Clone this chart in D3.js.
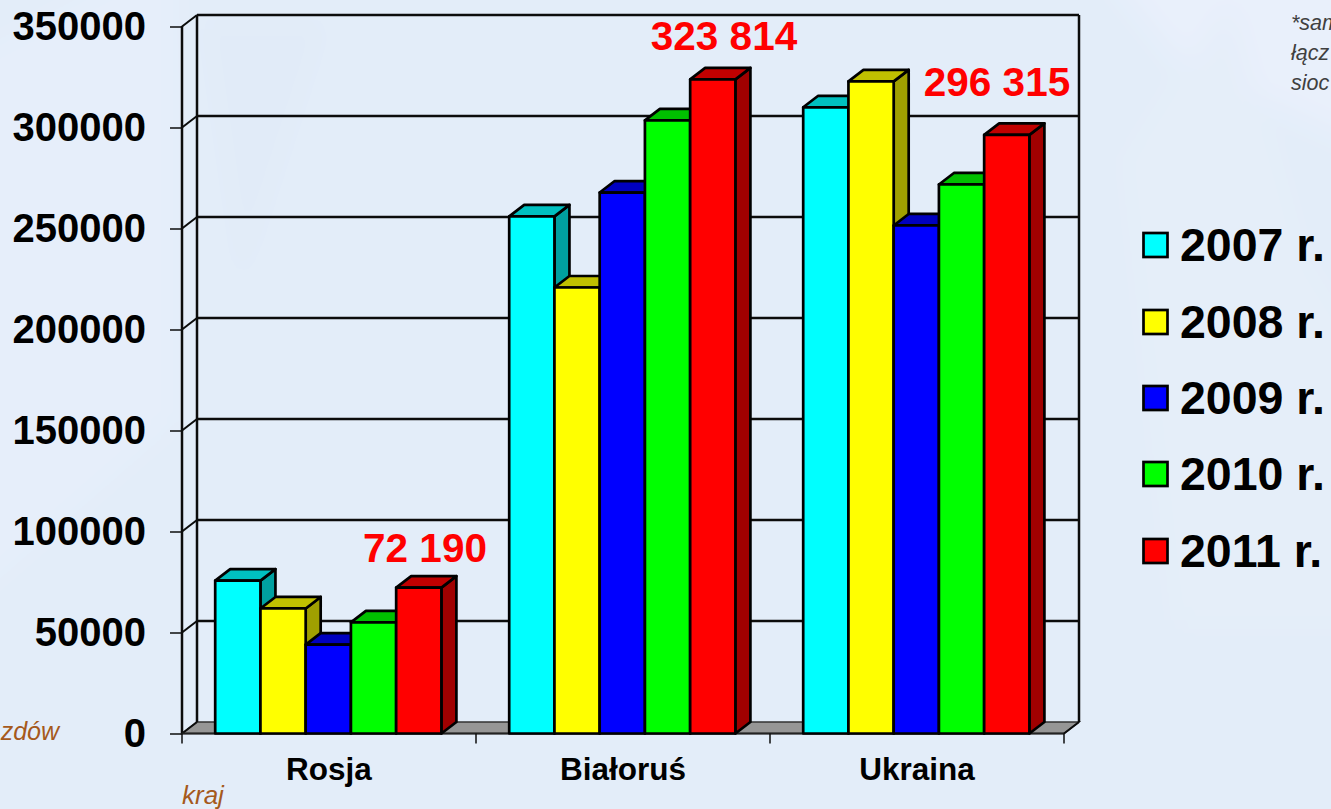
<!DOCTYPE html>
<html><head><meta charset="utf-8">
<script src="https://cdn.jsdelivr.net/npm/d3@7"></script>
<style>
html,body{margin:0;padding:0;background:#e3edf9;overflow:hidden}
svg{display:block;font-family:"Liberation Sans",Arial,sans-serif}
</style></head><body>
<svg id="c" width="1331" height="809"></svg>
<script>
const categories = ["Rosja", "Białoruś", "Ukraina"];
const years = ["2007 r.", "2008 r.", "2009 r.", "2010 r.", "2011 r."];
const v2007 = [75700, 256000, 310000];
const v2008 = [61900, 220800, 322800];
const v2009 = [44000, 267800, 251500];
const v2010 = [55000, 303500, 271800];
const v2011 = [72190, 323814, 296315];
const series = [v2007, v2008, v2009, v2010, v2011];
const frontColors = ["#00ffff", "#ffff00", "#0000ff", "#00ff00", "#ff0000"];
const topColors = ["#00c0c0", "#c0c000", "#0000c0", "#00c000", "#c00000"];
const sideColors = ["#00a0a0", "#a0a000", "#0000a0", "#00a000", "#a00000"];
const yTicks = [0, 50000, 100000, 150000, 200000, 250000, 300000, 350000];
const valueLabels = [
  {text: "72 190", cat: 0},
  {text: "323 814", cat: 1},
  {text: "296 315", cat: 2}
];
const labelOffsets = [[425, 562], [724, 50], [997, 96]];
const legendBaselines = [261, 338, 414, 490, 567];
const swatchTops = [233, 310, 386, 462, 539];
const noteLines = ["*sam", "łącz", "sioc"];

const svg = d3.select("#c");
const dx = 15, dy = -11.5;
const y = d3.scaleLinear().domain([0, 350000]).range([733.5, 26.5]);
const x0 = d3.scaleBand().domain(categories).range([182, 1064]);
const x1 = d3.scaleBand().domain(d3.range(5)).range([33.2, 259.4]);

// soft background shapes
const defs = svg.append("defs");
defs.append("filter").attr("id","blur").attr("filterUnits","userSpaceOnUse")
  .attr("x",-100).attr("y",-100).attr("width",1531).attr("height",1009)
  .append("feGaussianBlur").attr("stdDeviation",14);
const bg = svg.append("g").attr("filter","url(#blur)");
bg.append("rect").attr("x",-100).attr("y",-100).attr("width",1531).attr("height",1009).attr("fill","#e3edf9");
[["M1100,-40L1400,-40L1400,160L1180,60Z","#e9f0fb"],
 ["M1130,160L1230,0L1300,260L1400,420L1400,620L1180,620Z","#e5eef9"],
 ["M-60,80L170,-40L170,420L-60,620Z","#e6eefa"],
 ["M200,20L330,20L240,300Z","#e1ebf8"]
].forEach(d => bg.append("path").attr("d",d[0]).attr("fill",d[1]));

const ink = "#0c0c0c";
// floor
svg.append("path")
  .attr("d", d3.line()([[182,y(0)],[182+dx,y(0)+dy],[1064+dx,y(0)+dy],[1064,y(0)]])+"Z")
  .attr("fill","#969696").attr("stroke","#333").attr("stroke-width",1.5);

// walls & grid
const grid = svg.append("g").attr("fill","none").attr("stroke",ink).attr("stroke-width",2.5);
yTicks.forEach(t => {
  const yy = y(t);
  if (t>0) grid.append("line").attr("x1",182+dx).attr("x2",1064+dx).attr("y1",yy+dy).attr("y2",yy+dy);
  grid.append("line").attr("x1",182).attr("x2",182+dx).attr("y1",yy).attr("y2",yy+dy).attr("stroke-width",2);
});
grid.append("line").attr("x1",182+dx).attr("x2",182+dx).attr("y1",y(350000)+dy).attr("y2",y(0)+dy);
grid.append("line").attr("x1",1064+dx).attr("x2",1064+dx).attr("y1",y(350000)+dy).attr("y2",y(0)+dy);
grid.append("line").attr("x1",1064).attr("x2",1064+dx).attr("y1",y(0)).attr("y2",y(0)+dy).attr("stroke-width",2);

// y axis
const yAxis = svg.append("g").attr("transform","translate(182,0)")
  .call(d3.axisLeft(y).tickValues(yTicks).tickFormat(d3.format("d")).tickSize(12).tickPadding(24));
yAxis.selectAll("text").attr("font-size",40).attr("font-weight","bold").attr("fill","#000")
  .attr("font-family","'Liberation Sans',Arial,sans-serif");
yAxis.selectAll("line").attr("stroke",ink).attr("stroke-width",1.5);
yAxis.select(".domain").attr("d","M0,26V733").attr("stroke",ink).attr("stroke-width",2.5);

// x axis
const xAxis = svg.append("g").attr("transform","translate(0,733.5)")
  .call(d3.axisBottom(x0).tickSize(0).tickPadding(24));
xAxis.selectAll("text").attr("font-size",31.5).attr("font-weight","bold").attr("fill","#000")
  .attr("font-family","'Liberation Sans',Arial,sans-serif");
xAxis.select(".domain").attr("d","M182,0H1064").attr("stroke","#222").attr("stroke-width",2);
const tickPos = categories.map(c => x0(c)).concat([1064]);
xAxis.selectAll("line.sep").data(tickPos).join("line").attr("class","sep")
  .attr("x1",d=>d).attr("x2",d=>d).attr("y1",0).attr("y2",10)
  .attr("stroke",ink).attr("stroke-width",1.5);

// bars
const bars = svg.append("g").attr("stroke","#000").attr("stroke-width",2.7).attr("stroke-linejoin","round");
categories.forEach((cat,ci) => {
  series.forEach((vals,si) => {
    const xl = x0(cat)+x1(si), w = x1.bandwidth(), yt = y(vals[ci]), yb = y(0);
    const g = bars.append("g");
    g.append("path").attr("fill",sideColors[si])
      .attr("d",d3.line()([[xl+w,yb],[xl+w+dx,yb+dy],[xl+w+dx,yt+dy],[xl+w,yt]])+"Z");
    g.append("path").attr("fill",topColors[si])
      .attr("d",d3.line()([[xl,yt],[xl+dx,yt+dy],[xl+w+dx,yt+dy],[xl+w,yt]])+"Z");
    g.append("rect").attr("fill",frontColors[si]).attr("x",xl).attr("y",yt).attr("width",w).attr("height",yb-yt);
  });
});

// value labels
svg.append("g").selectAll("text").data(valueLabels).join("text")
  .attr("x",(d,i)=>labelOffsets[i][0]).attr("y",(d,i)=>labelOffsets[i][1])
  .attr("text-anchor","middle").attr("font-size",40.5).attr("font-weight","bold").attr("fill","#ff0000")
  .text(d=>d.text);

// legend
const leg = svg.append("g").selectAll("g").data(years).join("g");
leg.append("rect").attr("x",1143.5).attr("y",(d,i)=>swatchTops[i]).attr("width",24).attr("height",24)
  .attr("fill",(d,i)=>frontColors[i]).attr("stroke","#000").attr("stroke-width",2.7);
leg.append("text").attr("x",1180).attr("y",(d,i)=>legendBaselines[i])
  .attr("font-size",46.5).attr("font-weight","bold").attr("fill","#000").text(d=>d);

// notes
svg.append("g").selectAll("text").data(noteLines).join("text")
  .attr("x",1291).attr("y",(d,i)=>30+i*30)
  .attr("font-size",21.5).attr("font-style","italic").attr("fill","#404040").text(d=>d);
svg.append("text").attr("x",59).attr("y",740).attr("text-anchor","end")
  .attr("font-size",25).attr("font-style","italic").attr("fill","#a5591c").text("zdów");
svg.append("text").attr("x",182).attr("y",804)
  .attr("font-size",26).attr("font-style","italic").attr("fill","#a5591c").text("kraj");
</script>
</body></html>
